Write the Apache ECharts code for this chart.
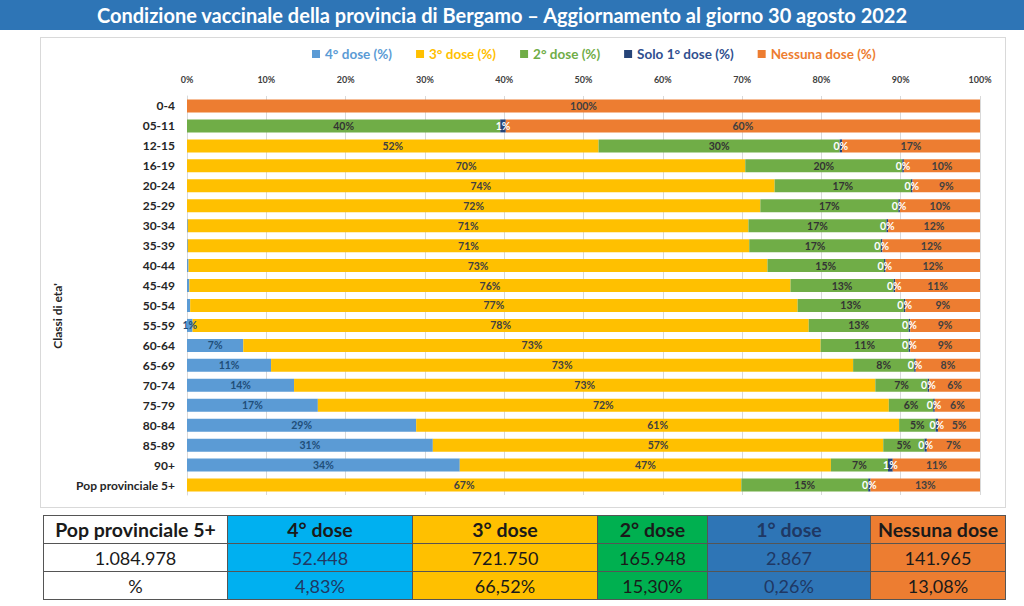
<!DOCTYPE html>
<html>
<head>
<meta charset="utf-8">
<script src="https://cdn.jsdelivr.net/npm/echarts@6/dist/echarts.min.js"></script>
<style>
  html, body { margin:0; padding:0; width:1024px; height:606px; background:#fff; overflow:hidden; font-family: Lato, "Open Sans", sans-serif; }
  #banner { position:absolute; left:0; top:0; width:1004px; padding-right:20px; height:30px; background:#2e75b6; color:#fff; font-weight:bold; font-size:20px; line-height:30px; text-align:center; }
  #panel { position:absolute; left:40px; top:37px; width:964px; height:469px; border:1px solid #d9d9d9; }
  #chart { position:absolute; left:0; top:0; width:1024px; height:606px; }
  #tbl { position:absolute; left:43px; top:515px; table-layout:fixed; border-collapse:collapse; font-size:18px; color:#1a1a1a; }
  #tbl td { border:1px solid #555; text-align:center; height:27px; padding:0; line-height:26px; white-space:nowrap; overflow:hidden; }
  #tbl tr.h td { font-weight:bold; font-size:19.5px; }
</style>
</head>
<body>
<div id="banner">Condizione vaccinale della provincia di Bergamo – Aggiornamento al giorno 30 agosto 2022</div>
<div id="panel"></div>
<div id="chart"></div>
<table id="tbl"></table>
<script>
const categories = ['0-4','05-11','12-15','16-19','20-24','25-29','30-34','35-39','40-44','45-49','50-54','55-59','60-64','65-69','70-74','75-79','80-84','85-89','90+','Pop provinciale 5+'];
const dose4 =   [0, 0,    0,    0,    0,    0,    0.1,  0.1,  0.2,  0.3,  0.4,  0.7,  7.1,  10.6, 13.5, 16.5, 28.9, 31.0, 34.4, 0];
const dose3 =   [0, 0,    51.9, 70.4, 74.1, 72.3, 70.7, 70.8, 73.0, 75.8, 76.6, 77.7, 72.8, 73.4, 73.3, 72.0, 60.9, 56.8, 46.8, 69.9];
const dose2 =   [0, 39.5, 30.4, 19.8, 17.2, 17.4, 17.4, 16.6, 14.7, 13.0, 13.4, 12.6, 11.1, 7.7,  6.6,  5.6,  4.6,  5.2,  7.2,  16.0];
const dose1 =   [0, 0.7,  0.3,  0.2,  0.2,  0.2,  0.2,  0.2,  0.2,  0.2,  0.2,  0.2,  0.2,  0.2,  0.2,  0.2,  0.3,  0.3,  0.6,  0.3];
const nessuna = [100, 59.8, 17.4, 9.6, 8.5, 10.1, 11.6, 12.3, 11.9, 10.7, 9.4, 8.8, 8.8, 8.1, 6.4, 5.7, 5.3, 6.7, 11.0, 13.8];
// labels printed on the "Pop provinciale 5+" row in the source (they differ from the bar lengths)
const popRowLabels = { '3° dose (%)': '67%', '2° dose (%)': '15%', 'Solo 1° dose (%)': '0%', 'Nessuna dose (%)': '13%' };

const tableHeader = ['Pop provinciale 5+','4° dose','3° dose','2° dose','1° dose','Nessuna dose'];
const tableCounts = ['1.084.978','52.448','721.750','165.948','2.867','141.965'];
const tablePerc =   ['%','4,83%','66,52%','15,30%','0,26%','13,08%'];
const tableColors = ['#ffffff','#00b0f0','#ffc000','#00b050','#2e75b6','#ed7d31'];
const tableWidths = [183,184,184,109,162,134];

const font = 'Lato, "Open Sans", sans-serif';
const seriesDefs = [
  { name:'4° dose (%)', data:dose4, color:'#5b9bd5', text:'#5b9bd5', label:'#1f4e79', min:0.5 },
  { name:'3° dose (%)', data:dose3, color:'#ffc000', text:'#ffc000', label:'#404040', min:0.5 },
  { name:'2° dose (%)', data:dose2, color:'#70ad47', text:'#70ad47', label:'#333333', min:0.5 },
  { name:'Solo 1° dose (%)', data:dose1, color:'#264478', text:'#2f4f8f', label:'#ffffff', min:0.01 },
  { name:'Nessuna dose (%)', data:nessuna, color:'#ed7d31', text:'#ed7d31', label:'#404040', min:0.5 }
];

const chart = echarts.init(document.getElementById('chart'), null, { renderer:'svg' });
chart.setOption({
  backgroundColor:'transparent',
  animation:false,
  legend: {
    top:42, left:307, icon:'rect', itemWidth:8, itemHeight:8, itemGap:24,
    data: seriesDefs.map(s => ({ name:s.name, textStyle:{ color:s.text } })),
    textStyle:{ fontFamily:font, fontSize:13.5, fontWeight:'bold' }
  },
  grid: { left:187, right:44, top:96, bottom:111 },
  xAxis: {
    type:'value', position:'top', min:0, max:100, interval:10,
    axisLabel:{ formatter:'{value}%', fontFamily:font, fontSize:9, fontWeight:'bold', color:'#404040', margin:12 },
    axisLine:{ show:false }, axisTick:{ show:false },
    splitLine:{ lineStyle:{ color:'#d9d9d9' } }
  },
  yAxis: {
    type:'category', data:categories, inverse:true,
    axisLabel:{ fontFamily:font, fontSize:12, fontWeight:'bold', color:'#262626', margin:12 },
    axisLine:{ lineStyle:{ color:'#d9d9d9' } }, axisTick:{ show:false }
  },
  graphic: [{
    type:'text', x:57, y:316, rotation:Math.PI/2,
    style:{ text:"Classi di eta'", fill:'#262626', font:'bold 12px ' + font, textAlign:'center', textVerticalAlign:'middle' }
  }],
  series: seriesDefs.map(s => ({
    name:s.name, type:'bar', stack:'tot', data:s.data, barWidth:13,
    itemStyle:{ color:s.color },
    label:{
      show:true, position:'inside', color:s.label, fontFamily:font, fontSize:10.5, fontWeight:'bold',
      formatter: p => {
        if (p.name === 'Pop provinciale 5+') return popRowLabels[s.name] || '';
        return p.value >= s.min ? Math.round(p.value) + '%' : '';
      }
    }
  }))
});

// table
const tbl = document.getElementById('tbl');
[[tableHeader,'h'],[tableCounts,''],[tablePerc,'']].forEach(([row, cls]) => {
  const tr = document.createElement('tr');
  if (cls) tr.className = cls;
  row.forEach((txt, i) => {
    const td = document.createElement('td');
    td.textContent = txt;
    td.style.background = tableColors[i];
    td.style.width = tableWidths[i] + 'px';
    if (i === 4 || (i === 1 && !cls)) td.style.color = '#1f3864';
    tr.appendChild(td);
  });
  tbl.appendChild(tr);
});
</script>
</body>
</html>
